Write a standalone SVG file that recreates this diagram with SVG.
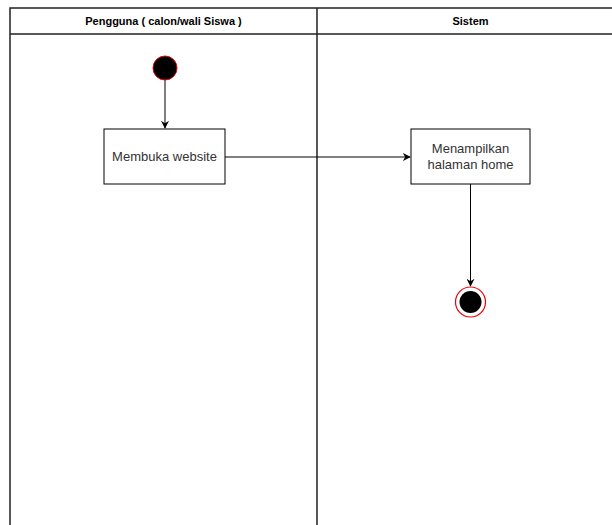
<svg xmlns="http://www.w3.org/2000/svg" width="612" height="525" viewBox="0 0 612 525">
  <defs>
    <marker id="arrow" viewBox="0 0 10 10" refX="9" refY="5" markerWidth="8" markerHeight="8" orient="auto" markerUnits="userSpaceOnUse">
      <path d="M0,0 L10,5 L0,10 L3,5 Z" fill="#000"/>
    </marker>
  </defs>
  <style>
    .lane { fill: none; stroke: #222; stroke-width: 1.5; }
    .head { font-family: "Liberation Sans", Arial, sans-serif; font-size: 11px; font-weight: bold; fill: #000; text-anchor: middle; }
    .box { fill: #fff; stroke: #000; stroke-width: 1; }
    .label { font-family: "Liberation Sans", Arial, sans-serif; font-size: 13px; fill: #333; text-anchor: middle; }
    .edge { fill: none; stroke: #000; stroke-width: 1; marker-end: url(#arrow); }
  </style>
  <rect width="612" height="525" fill="#fff"/>

  <!-- swimlanes -->
  <g id="lanes">
    <path class="lane" d="M10,525 V8 H624 M10,34 H624 M317,8 V525"/>
    <text class="head" x="163.5" y="25">Pengguna ( calon/wali Siswa )</text>
    <text class="head" x="470.5" y="25">Sistem</text>
  </g>

  <!-- connectors -->
  <g id="connectors">
    <line class="edge" x1="165" y1="80" x2="165" y2="128"/>
    <line class="edge" x1="225" y1="157" x2="410" y2="157"/>
    <line class="edge" x1="470.5" y1="184" x2="470.5" y2="286"/>
  </g>

  <g id="start">
    <circle cx="165" cy="68" r="12" fill="#000" stroke="#e00" stroke-width="1"/>
  </g>

  <g id="membuka-website">
    <rect class="box" x="104" y="129" width="121" height="55"/>
    <text class="label" x="164.5" y="161">Membuka website</text>
  </g>

  <g id="menampilkan-home">
    <rect class="box" x="411" y="129" width="119" height="55"/>
    <text class="label" x="470.5" y="153">Menampilkan</text>
    <text class="label" x="470.5" y="169">halaman home</text>
  </g>

  <g id="end">
    <circle cx="470.5" cy="302" r="15" fill="#fff" stroke="#e00" stroke-width="1.2"/>
    <circle cx="470.5" cy="302" r="11" fill="#000"/>
  </g>
</svg>
